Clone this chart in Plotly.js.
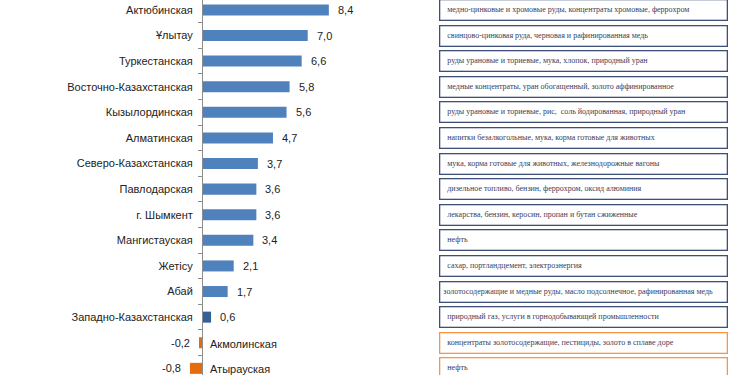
<!DOCTYPE html>
<html><head><meta charset="utf-8">
<script src="https://cdn.plot.ly/plotly-3.0.1.min.js"></script>
<style>html,body{margin:0;padding:0;background:#fff}#c{width:750px;height:375px}</style>
</head><body><div id="c"></div>
<script>
const regions = ["Актюбинская","Ұлытау","Туркестанская","Восточно-Казахстанская","Кызылординская","Алматинская","Северо-Казахстанская","Павлодарская","г. Шымкент","Мангистауская","Жетісу","Абай","Западно-Казахстанская","Акмолинская","Атырауская"];
const values = [8.4,7.0,6.6,5.8,5.6,4.7,3.7,3.6,3.6,3.4,2.1,1.7,0.6,-0.2,-0.8];
const products = [
 "медно-цинковые и хромовые руды, концентраты хромовые, феррохром",
 "свинцово-цинковая руда, черновая и рафинированная медь",
 "руды урановые и ториевые, мука, хлопок, природный уран",
 "медные концентраты, уран обогащенный, золото аффинированное",
 "руды урановые и ториевые, рис,  соль йодированная, природный уран",
 "напитки безалкогольные, мука, корма готовые для животных",
 "мука, корма готовые для животных, железнодорожные вагоны",
 "дизельное топливо, бензин, феррохром, оксид алюминия",
 "лекарства, бензин, керосин, пропан и бутан сжиженные",
 "нефть",
 "сахар, портландцемент, электроэнергия",
 "золотосодержащие и медные руды, масло подсолнечное, рафинированная медь",
 "природный газ, услуги в горнодобывающей промышленности",
 "концентраты золотосодержащие, пестициды, золото в сплаве доре",
 "нефть"
];
const highlighted = "Западно-Казахстанская";

const fmt = v => v.toFixed(1).replace('.', ',');
const colors = regions.map((r,i) => values[i] < 0 ? '#E46C0A' : (r === highlighted ? '#34609A' : '#4F81BD'));
const tickText = regions.map((r,i) => values[i] < 0 ? '' : r);
const labelFont = {family:'Liberation Sans, Arial, sans-serif', size:11, color:'#222222'};

const annotations = [];
regions.forEach((r,i) => {
  const v = values[i];
  annotations.push({x: v, y: r, xref:'x', yref:'y', text: fmt(v), showarrow:false,
    xanchor: v < 0 ? 'right' : 'left', xshift: v < 0 ? -7 : 7, font: labelFont});
  if (v < 0) {
    annotations.push({x: 0, y: r, xref:'x', yref:'y', text: r, showarrow:false,
      xanchor:'left', xshift: 6, yshift: -1, font: labelFont});
  }
  annotations.push({x: 439/750, y: r, xref:'paper', yref:'y', xanchor:'left', yanchor:'middle',
    text: (i === 11 ? '\u00a0' : '\u00a0\u00a0\u00a0') + products[i], showarrow:false, align:'left',
    width: 284, height: 17, borderpad: 1, borderwidth: 1.3,
    bordercolor: v < 0 ? '#F79646' : '#3F5078', bgcolor:'#ffffff',
    font:{family:'Liberation Serif, Times New Roman, serif', size:8, color:'#3a4058'}});
});

const data = [{
  type:'bar', orientation:'h', x: values, y: regions,
  marker:{color: colors}, width: 0.43, hoverinfo:'none'
}];

const layout = {
  width:750, height:375,
  margin:{l:0, r:0, t:0, b:0},
  paper_bgcolor:'#ffffff', plot_bgcolor:'rgba(0,0,0,0)',
  showlegend:false,
  xaxis:{range:[-202/15.1, (750-202)/15.1], visible:false, showgrid:false, zeroline:false},
  yaxis:{type:'category', range:[14.26, -0.387], autorange:false,
    anchor:'free', position: 202/750,
    showline:true, linecolor:'#8c8c8c', linewidth:1,
    ticks:'outside', tickson:'boundaries', ticklen:4, tickcolor:'#8c8c8c',
    ticklabelstandoff: 7,
    tickmode:'array', tickvals: regions, ticktext: tickText,
    tickfont: labelFont,
    showgrid:false, zeroline:false},
  annotations: annotations
};
Plotly.newPlot('c', data, layout, {displayModeBar:false, staticPlot:true});
</script></body></html>
